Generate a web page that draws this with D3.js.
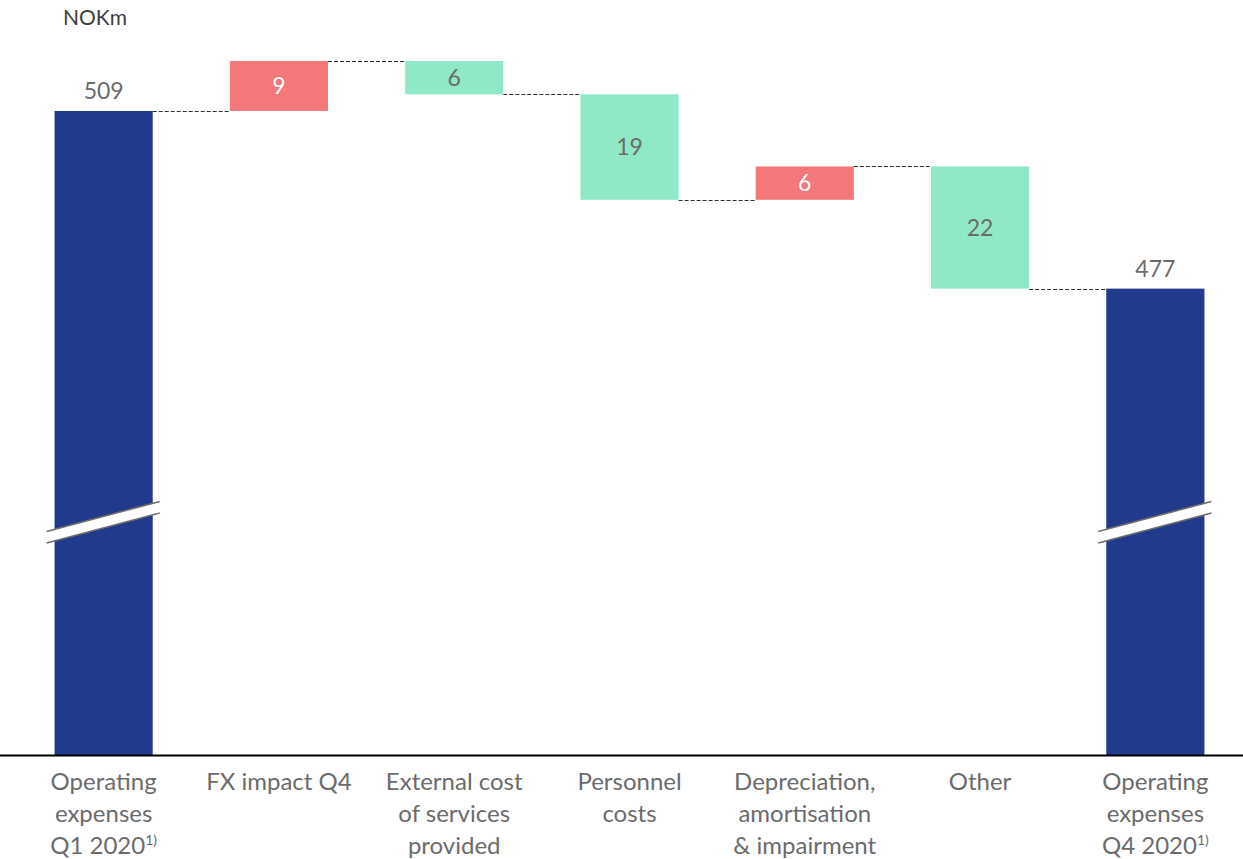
<!DOCTYPE html>
<html><head><meta charset="utf-8">
<script src="https://cdn.jsdelivr.net/npm/d3@7"></script>
<style>body{margin:0;background:#fff}svg{display:block}</style>
</head><body>
<script>
const categories = [
  ["Operating","expenses","Q1 2020"],
  ["FX impact Q4"],
  ["External cost","of services","provided"],
  ["Personnel","costs"],
  ["Depreciation,","amortisation","& impairment"],
  ["Other"],
  ["Operating","expenses","Q4 2020"]
];
const footnoteFlags = [true,false,false,false,false,false,true];
const types = ["total","increase","decrease","decrease","increase","decrease","total"];
const values = [509, 9, -6, -19, 6, -22, 477];
const unitLabel = "NOKm";

const W = 1243, H = 859;
const svg = d3.select("body").append("svg").attr("width", W).attr("height", H);
const font = "Lato, 'Noto Sans', sans-serif";

const x = d3.scaleBand().domain(d3.range(categories.length)).range([16, 1243]).paddingInner(0.44).paddingOuter(0.22);
const y = d3.scaleLinear().domain([393, 518]).range([755, 61]);

let run = 0;
const bars = values.map((v, i) => {
  let lo, hi, endLevel;
  if (types[i] === "total") { lo = 393; hi = v; run = v; endLevel = v; }
  else { const s = run; run = s + v; lo = Math.min(s, run); hi = Math.max(s, run); endLevel = run; }
  return {i, v, lo, hi, endLevel, type: types[i]};
});
const colors = {total: "#213a8c", increase: "#f4777a", decrease: "#8fe8c6"};

for (let i = 0; i < bars.length - 1; i++) {
  const lvl = bars[i].endLevel;
  svg.append("line")
    .attr("x1", x(i) + x.bandwidth()).attr("x2", x(i + 1))
    .attr("y1", Math.round(y(lvl)) + 0.5).attr("y2", Math.round(y(lvl)) + 0.5)
    .attr("stroke", "#333").attr("stroke-width", 1).attr("stroke-dasharray", "4,2");
}

svg.selectAll("rect.bar").data(bars).enter().append("rect")
  .attr("x", d => x(d.i)).attr("width", x.bandwidth())
  .attr("y", d => y(d.hi)).attr("height", d => y(d.lo) - y(d.hi))
  .attr("fill", d => colors[d.type]);

bars.filter(d => d.type === "total").forEach(d => {
  const x0 = x(d.i) - 8, x1 = x(d.i) + x.bandwidth() + 7;
  const yA = 531.5, yB = 501.5, gap = 11.5;
  svg.append("path")
    .attr("d", `M${x0},${yA}L${x1},${yB}L${x1},${yB+gap}L${x0},${yA+gap}Z`)
    .attr("fill", "#fff");
  [0, gap].forEach(g => svg.append("line")
    .attr("x1", x0).attr("y1", yA + g).attr("x2", x1).attr("y2", yB + g)
    .attr("stroke", "#6f6f6f").attr("stroke-width", 1.6));
});

bars.forEach(d => {
  const cx = x(d.i) + x.bandwidth() / 2;
  if (d.type === "total") {
    svg.append("text").attr("x", cx).attr("y", y(d.hi) - 12)
      .attr("text-anchor", "middle").attr("font-family", font).attr("font-size", 23)
      .attr("fill", "#6b6b6b").text(d.v);
  } else {
    svg.append("text").attr("x", cx).attr("y", (y(d.hi) + y(d.lo)) / 2)
      .attr("dy", "0.36em").attr("text-anchor", "middle").attr("font-family", font).attr("font-size", 23)
      .attr("fill", d.type === "increase" ? "#ffffff" : "#6b6b6b").text(Math.abs(d.v));
  }
});

const axis = d3.axisBottom(x).tickSize(0).tickFormat("");
const gAx = svg.append("g").attr("transform", "translate(0,755)").call(axis);
gAx.select(".domain").remove();
svg.append("line").attr("x1", 0).attr("x2", W).attr("y1", 755.5).attr("y2", 755.5)
  .attr("stroke", "#000").attr("stroke-width", 2);

categories.forEach((lines, i) => {
  const cx = x(i) + x.bandwidth() / 2;
  const t = svg.append("text").attr("text-anchor", "middle").attr("font-family", font)
    .attr("font-size", 24).attr("fill", "#6b6b6b");
  lines.forEach((ln, k) => {
    t.append("tspan").attr("x", cx).attr("y", 790 + k * 32).text(ln);
    if (k === lines.length - 1 && footnoteFlags[i]) {
      t.append("tspan").attr("font-size", 14).attr("dy", -9).text("1)");
    }
  });
});

svg.append("text").attr("x", 63).attr("y", 25).attr("font-family", font)
  .attr("font-size", 21).attr("fill", "#404040").text(unitLabel);
</script>
</body></html>
